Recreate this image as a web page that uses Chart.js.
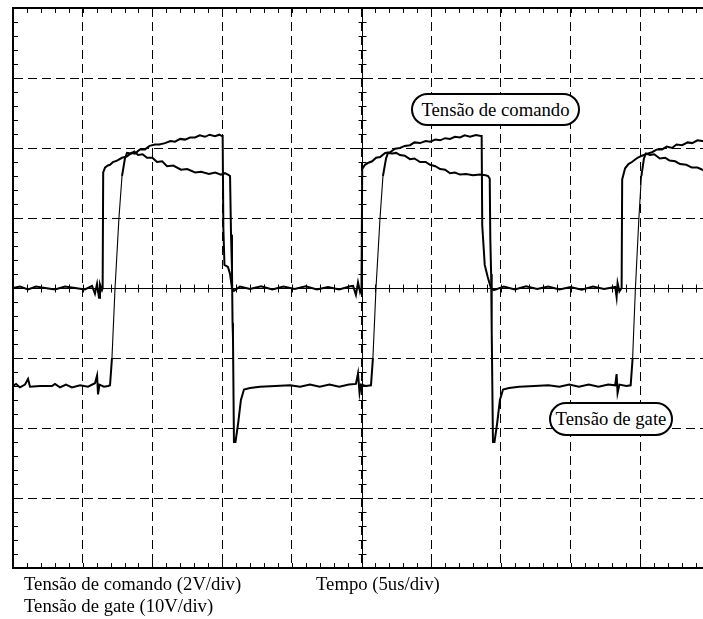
<!DOCTYPE html>
<html lang="pt">
<head>
    <meta charset="UTF-8">
    <title>Tensão de comando e tensão de gate</title>
    <script src="https://cdn.jsdelivr.net/npm/chart.js@4.4.1/dist/chart.umd.min.js"></script>
    <style>
        html, body {
            margin: 0;
            padding: 0;
            background: #fff;
            overflow: hidden;
        }
        .scope {
            position: relative;
            width: 703px;
            height: 619px;
            overflow: hidden;
            font-family: "Liberation Serif", "Times New Roman", serif;
            font-size: 18.7px;
            color: #000;
        }
        .scope canvas {
            position: absolute;
            left: 0;
            top: 0;
        }
        .tag {
            position: absolute;
            box-sizing: border-box;
            border: 2px solid #000;
            border-radius: 18px;
            background: #fff;
            text-align: center;
            white-space: nowrap;
        }
        .caption {
            position: absolute;
            white-space: nowrap;
            line-height: 22px;
        }
    </style>
</head>
<body>
    <div class="scope">
        <canvas id="scopeChart" width="720" height="619"></canvas>
        <div class="tag" style="left:411px; top:93px; width:169px; height:33px; line-height:29px;">Tensão de comando</div>
        <div class="tag" style="left:549px; top:402px; width:124px; height:34px; line-height:30px;">Tensão de gate</div>
        <div class="caption" style="left:24px; top:573px;">Tensão de comando (2V/div)<br>Tensão de gate (10V/div)</div>
        <div class="caption" style="left:316px; top:573px;">Tempo (5us/div)</div>
    </div>

    <script>
        // channel sensitivities
        const CMD_V_PER_DIV = 2;
        const GATE_V_PER_DIV = 10;

        // command signal: time (us) and volts
        const cmdTime = [
            0, 0.5, 1.08, 1.65, 2.3, 3.01, 3.73, 4.45, 5.16, 5.67, 5.88, 6.03, 6.17, 6.24, 6.38, 6.43,
            6.47, 6.6, 6.8, 6.96, 7.17, 7.46, 7.82, 8.18, 8.5, 8.75, 9.1, 9.47, 9.8, 10.19, 10.5, 10.9, 11.3, 11.62,
            12.0, 12.34, 12.7, 13.06, 13.4, 13.77, 14.1, 14.49, 14.8, 14.99, 15.04,
            15.09, 15.17, 15.42, 15.57, 15.71, 15.85,
            16.28, 17.0, 17.8, 18.6, 19.4, 20.2, 21.0, 21.8, 22.6, 23.4, 24.2, 24.4, 24.6, 24.75, 24.9, 25.0,
            25.05, 25.25, 25.5, 25.76, 26.05, 26.33, 26.7, 27.05, 27.4, 27.76, 28.1, 28.48, 28.8, 29.2, 29.6, 29.92,
            30.3, 30.64, 31.0, 31.35, 31.7, 32.07, 32.4, 32.79, 33.2, 33.57, 33.62,
            33.66, 33.84, 34.05, 34.28, 34.5,
            35.2, 36.0, 36.8, 37.6, 38.4, 39.2, 40.0, 40.8, 41.6, 42.4, 43.2, 43.3, 43.37, 43.5, 43.66,
            43.7, 43.91, 44.15, 44.4, 44.8, 45.12, 45.5, 45.84, 46.2, 46.56, 46.9, 47.28, 47.6, 48.0, 48.4, 48.72,
            49.1, 49.44, 50.0
        ];
        const cmdVolts = [
            0, 0.04, -0.04, 0.04, 0, -0.04, 0.04, 0, -0.04, 0.06, -0.16, 0.12, -0.28, 0.1, -0.06, 0,
            3.3, 3.44, 3.5, 3.52, 3.6, 3.64, 3.72, 3.76, 3.86, 3.84, 3.96, 3.96, 4.06, 4.1, 4.1, 4.14, 4.2, 4.18,
            4.26, 4.24, 4.3, 4.3, 4.36, 4.32, 4.38, 4.34, 4.38, 4.34, 4.34,
            1.72, 0.66, 0.6, 0.4, 0, -0.08,
            0.04, -0.03, 0.05, -0.04, 0.04, -0.03, 0.05, -0.04, 0.03, -0.04, 0.05, 0.06, -0.2, 0.16, -0.12, 0,
            3.4, 3.52, 3.58, 3.62, 3.72, 3.74, 3.86, 3.88, 3.98, 4.0, 4.06, 4.08, 4.16, 4.14, 4.2, 4.18,
            4.24, 4.22, 4.28, 4.26, 4.32, 4.3, 4.36, 4.32, 4.37, 4.34, 4.34,
            1.8, 0.66, 0.32, 0, -0.06,
            0.04, -0.04, 0.05, -0.03, 0.04, -0.04, 0.03, -0.05, 0.04, -0.03, 0.03, -0.26, 0.14, -0.1, 0,
            3.1, 3.42, 3.54, 3.6, 3.72, 3.78, 3.84, 3.88, 3.96, 3.96, 4.04, 4.0, 4.1, 4.08, 4.16, 4.14,
            4.22, 4.2, 4.22
        ];

        // gate voltage: time (us) and volts
        const gateTime = [
            0, 0.22, 0.5, 0.86, 1.08, 1.22, 1.94, 2.8, 3.01, 3.37, 3.8, 4.23, 4.81, 5.38, 5.88, 6.03, 6.1, 6.2, 6.53, 6.82, 6.96,
            7.1, 7.32, 7.6, 7.82, 8.03, 8.18, 8.46, 8.7, 8.97, 9.3, 9.61, 10.0, 10.33, 10.7, 11.05, 11.5, 12.05, 12.5, 13.06,
            13.5, 14.06, 14.5, 14.92, 15.2, 15.42, 15.57,
            15.64, 15.71, 15.75, 15.78, 15.85, 15.96, 16.14, 16.35, 16.57, 17.0, 17.72, 18.8, 19.87,
            20.6, 21.3, 22.0, 22.7, 23.4, 24.1, 24.6, 24.75, 24.86, 24.96, 25.32, 25.68,
            25.82, 26.04, 26.33, 26.54, 26.76, 26.9, 27.2, 27.5, 27.76, 28.1, 28.48, 28.8, 29.2, 29.6, 29.92, 30.3, 30.64,
            31.0, 31.35, 31.7, 32.07, 32.5, 33.0, 33.5, 33.9, 34.08, 34.2,
            34.24, 34.3, 34.34, 34.43, 34.54, 34.72, 34.93, 35.15, 35.58, 36.3, 37.4, 38.4,
            39.2, 39.9, 40.6, 41.3, 42.0, 42.7, 43.2, 43.3, 43.37, 43.5, 44.0, 44.31,
            44.45, 44.65, 44.9, 45.08, 45.26, 45.4, 45.7, 46.0, 46.4, 46.8, 47.1, 47.5, 47.85, 48.3, 48.7, 49.1, 49.45, 50.0
        ];
        const gateVolts = [
            -14.0, -13.7, -14.2, -13.8, -13.0, -14.1, -14.0, -14.0, -13.7, -14.2, -13.8, -14.2, -13.9, -14.1, -13.6, -12.5, -15.2, -13.8, -14.1, -14.0, -13.9,
            -10.0, 0, 10.0, 16.0, 18.5, 19.3, 19.2, 19.5, 19.0, 19.1, 18.6, 18.6, 18.0, 18.1, 17.4, 17.5, 16.9, 17.0, 16.5,
            16.6, 16.3, 16.5, 16.2, 16.4, 16.2, 16.0,
            7.6, 2.5, -5.0, -7.0, -22.0, -22.0, -19.5, -16.0, -14.5, -14.3, -14.1, -14.0, -13.9,
            -14.1, -13.8, -14.1, -13.8, -14.1, -13.8, -13.7, -12.2, -15.0, -13.8, -14.0, -13.9,
            -10.0, 0, 10.0, 16.0, 18.5, 19.3, 19.2, 19.3, 19.0, 18.9, 18.4, 18.5, 18.0, 18.0, 17.6, 17.4, 17.0,
            16.9, 16.4, 16.5, 16.2, 16.3, 16.1, 16.2, 16.1, 16.0, 15.6,
            7.0, 2.0, -6.0, -22.0, -22.0, -19.5, -16.0, -14.5, -14.3, -14.1, -14.0, -13.9,
            -14.1, -13.8, -14.1, -13.8, -14.1, -13.8, -13.9, -12.3, -15.0, -13.8, -14.0, -13.9,
            -10.0, 0, 10.0, 16.0, 18.5, 19.2, 19.0, 19.1, 18.5, 18.6, 18.2, 18.1, 17.7, 17.6, 17.2, 17.2, 16.9, 16.8
        ];

        // both channels share the 8 x 10 division screen
        const toDivs = (times, volts, perDiv) => times.map((t, i) => ({ x: t, y: volts[i] / perDiv }));

        // the slow gate rise is traced thinner than the settled parts
        const gateWidth = ctx => (ctx.p1.parsed.y - ctx.p0.parsed.y > 0.5 ? 1.1 : 2);

        // centre cross, minor ticks and frame (left, top, bottom) of the graticule
        const graticule = {
            id: 'graticule',
            beforeDatasetsDraw(chart) {
                const { ctx, chartArea: a, scales: { x, y } } = chart;
                const snap = v => Math.round(v) + 0.5;
                const cx = snap(x.getPixelForValue(25));
                const cy = snap(y.getPixelForValue(0));
                ctx.save();
                ctx.strokeStyle = '#000';
                ctx.lineWidth = 1;
                ctx.beginPath();
                ctx.moveTo(a.left, cy); ctx.lineTo(a.right, cy);
                ctx.moveTo(cx, a.top); ctx.lineTo(cx, a.bottom);
                for (let t = 0; t <= 50; t += 1) {
                    const px = snap(x.getPixelForValue(t));
                    ctx.moveTo(px, cy - 4); ctx.lineTo(px, cy + 4);
                    ctx.moveTo(px, a.top); ctx.lineTo(px, a.top + 5);
                    ctx.moveTo(px, a.bottom); ctx.lineTo(px, a.bottom - 5);
                }
                for (let i = 0; i <= 40; i++) {
                    const py = snap(y.getPixelForValue(-4 + i * 0.2));
                    ctx.moveTo(cx - 4, py); ctx.lineTo(cx + 4, py);
                    ctx.moveTo(a.left, py); ctx.lineTo(a.left + 5, py);
                }
                ctx.stroke();
                ctx.lineWidth = 2;
                ctx.beginPath();
                ctx.moveTo(a.right, a.top); ctx.lineTo(a.left, a.top);
                ctx.lineTo(a.left, a.bottom); ctx.lineTo(a.right, a.bottom);
                ctx.stroke();
                ctx.restore();
            }
        };

        new Chart(document.getElementById('scopeChart'), {
            type: 'line',
            data: {
                datasets: [{
                    label: 'Tensão de comando',
                    data: toDivs(cmdTime, cmdVolts, CMD_V_PER_DIV),
                    borderColor: '#000',
                    borderWidth: 2,
                    pointRadius: 0,
                    tension: 0
                }, {
                    label: 'Tensão de gate',
                    data: toDivs(gateTime, gateVolts, GATE_V_PER_DIV),
                    borderColor: '#000',
                    borderWidth: 2,
                    segment: { borderWidth: gateWidth },
                    pointRadius: 0,
                    tension: 0
                }]
            },
            options: {
                responsive: false,
                animation: false,
                layout: {
                    padding: { left: 13, top: 8, right: 10, bottom: 51 }
                },
                plugins: {
                    legend: { display: false },
                    tooltip: { enabled: false }
                },
                scales: {
                    x: {
                        type: 'linear',
                        min: 0,
                        max: 50,
                        ticks: { display: false, stepSize: 5 },
                        grid: { color: '#000', lineWidth: 1, drawTicks: false },
                        border: { display: true, color: '#000', width: 2, dash: [9, 5] }
                    },
                    y: {
                        min: -4,
                        max: 4,
                        ticks: { display: false, stepSize: 1 },
                        grid: { color: '#000', lineWidth: 1, drawTicks: false },
                        border: { display: true, color: '#000', width: 2, dash: [9, 5] }
                    }
                }
            },
            plugins: [graticule]
        });
    </script>
</body>
</html>
